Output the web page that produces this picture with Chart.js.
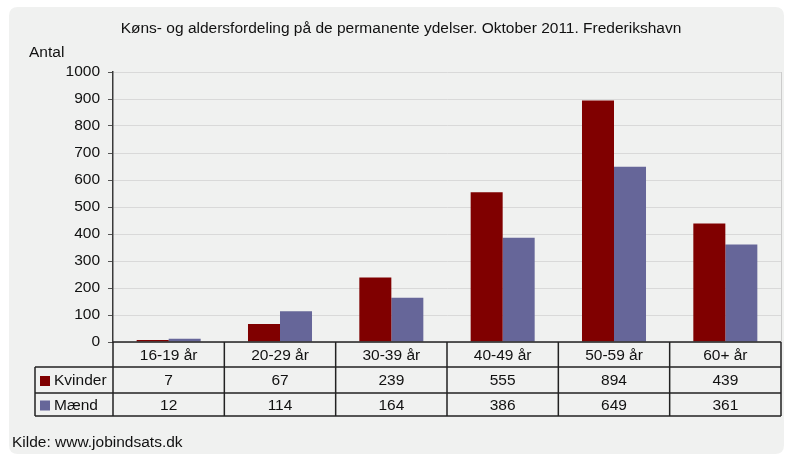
<!DOCTYPE html>
<html>
<head>
<meta charset="utf-8">
<script src="https://cdn.jsdelivr.net/npm/chart.js@4"></script>
<style>
  html, body { margin: 0; padding: 0; background: #ffffff; }
  canvas { display: block; }
</style>
</head>
<body>
<canvas id="chart" width="788" height="454"></canvas>
<script>
// data
const categories = ["16-19 år", "20-29 år", "30-39 år", "40-49 år", "50-59 år", "60+ år"];
const kvinder = [7, 67, 239, 555, 894, 439];
const maend = [12, 114, 164, 386, 649, 361];
const seriesNames = ["Kvinder", "Mænd"];
const yTicks = [0, 100, 200, 300, 400, 500, 600, 700, 800, 900, 1000];

const titleText = "Køns- og aldersfordeling på de permanente ydelser. Oktober 2011. Frederikshavn";
const colors = ["#800000", "#666699"];
const FONT_SIZE = 15.5;
const FONT = FONT_SIZE + "px 'Liberation Sans', Arial, sans-serif";

function roundRect(ctx, x, y, w, h, r) {
  ctx.beginPath();
  ctx.moveTo(x + r, y);
  ctx.lineTo(x + w - r, y);
  ctx.quadraticCurveTo(x + w, y, x + w, y + r);
  ctx.lineTo(x + w, y + h - r);
  ctx.quadraticCurveTo(x + w, y + h, x + w - r, y + h);
  ctx.lineTo(x + r, y + h);
  ctx.quadraticCurveTo(x, y + h, x, y + h - r);
  ctx.lineTo(x, y + r);
  ctx.quadraticCurveTo(x, y, x + r, y);
  ctx.closePath();
}

// background panel, title, unit and source
const panelPlugin = {
  id: "panel",
  beforeDraw(chart) {
    const ctx = chart.ctx;
    ctx.save();
    ctx.fillStyle = "#ffffff";
    ctx.fillRect(0, 0, chart.width, chart.height);
    ctx.fillStyle = "#f0f1f0";
    roundRect(ctx, 9, 7, 775, 447, 9);
    ctx.fill();

    ctx.fillStyle = "#111111";
    ctx.font = FONT;
    ctx.textBaseline = "alphabetic";
    ctx.textAlign = "center";
    ctx.fillText(titleText, 401, 33);
    ctx.textAlign = "left";
    ctx.fillText("Antal", 29, 57);
    ctx.fillText("Kilde: www.jobindsats.dk", 12, 447);
    ctx.restore();
  }
};

// data table under the plot
const tablePlugin = {
  id: "table",
  afterDraw(chart) {
    const ctx = chart.ctx;
    const x = chart.scales.x;
    const area = chart.chartArea;
    const n = categories.length;
    const colW = (area.right - area.left) / n;
    const rows = [area.bottom, area.bottom + 25, area.bottom + 51, area.bottom + 74];
    const tableLeft = 35;

    ctx.save();
    // right edge of plot
    ctx.strokeStyle = "#cccccc";
    ctx.lineWidth = 1;
    ctx.beginPath();
    ctx.moveTo(area.right + 0.5, area.top);
    ctx.lineTo(area.right + 0.5, area.bottom);
    ctx.stroke();

    ctx.strokeStyle = "#222222";
    ctx.lineWidth = 1.5;
    ctx.beginPath();
    ctx.moveTo(area.left, rows[0]);
    ctx.lineTo(area.right, rows[0]);
    for (let r = 1; r < rows.length; r++) {
      ctx.moveTo(tableLeft, rows[r]);
      ctx.lineTo(area.right, rows[r]);
    }
    ctx.moveTo(tableLeft, rows[1]);
    ctx.lineTo(tableLeft, rows[3]);
    for (let i = 0; i <= n; i++) {
      const bx = area.left + i * colW;
      ctx.moveTo(bx, rows[0]);
      ctx.lineTo(bx, rows[3]);
    }
    ctx.stroke();

    ctx.fillStyle = "#111111";
    ctx.font = FONT;
    ctx.textAlign = "center";
    ctx.textBaseline = "middle";
    const series = [kvinder, maend];
    for (let i = 0; i < n; i++) {
      const cx = x.getPixelForValue(i);
      ctx.fillText(categories[i], cx, (rows[0] + rows[1]) / 2 + 1);
      for (let s = 0; s < series.length; s++) {
        ctx.fillText(String(series[s][i]), cx, (rows[s + 1] + rows[s + 2]) / 2 + 1);
      }
    }

    ctx.textAlign = "left";
    for (let s = 0; s < seriesNames.length; s++) {
      const cy = (rows[s + 1] + rows[s + 2]) / 2 + 1;
      ctx.fillStyle = colors[s];
      ctx.fillRect(40, cy - 5, 10, 10);
      ctx.fillStyle = "#111111";
      ctx.fillText(seriesNames[s], 54, cy);
    }
    ctx.restore();
  }
};

new Chart(document.getElementById("chart"), {
  type: "bar",
  data: {
    labels: categories,
    datasets: [
      { label: seriesNames[0], data: kvinder, backgroundColor: colors[0] },
      { label: seriesNames[1], data: maend, backgroundColor: colors[1] }
    ]
  },
  options: {
    responsive: false,
    animation: false,
    datasets: {
      bar: { categoryPercentage: 0.575, barPercentage: 1.0 }
    },
    layout: {
      padding: { left: 0, top: 72, right: 7, bottom: 112 }
    },
    plugins: {
      legend: { display: false },
      tooltip: { enabled: false },
      title: { display: false }
    },
    scales: {
      x: {
        display: false
      },
      y: {
        min: 0,
        max: 1000,
        afterFit(scale) { scale.width = 113; },
        afterBuildTicks(scale) { scale.ticks = yTicks.map(v => ({ value: v })); },
        border: { color: "#3a3a3a", width: 1.5 },
        grid: {
          color: "#d9d9d9",
          tickColor: "#555555",
          tickLength: 5
        },
        ticks: {
          padding: 8,
          color: "#111111",
          font: { family: "'Liberation Sans', Arial, sans-serif", size: FONT_SIZE },
          callback: v => String(v)
        }
      }
    }
  },
  plugins: [panelPlugin, tablePlugin]
});
</script>
</body>
</html>
